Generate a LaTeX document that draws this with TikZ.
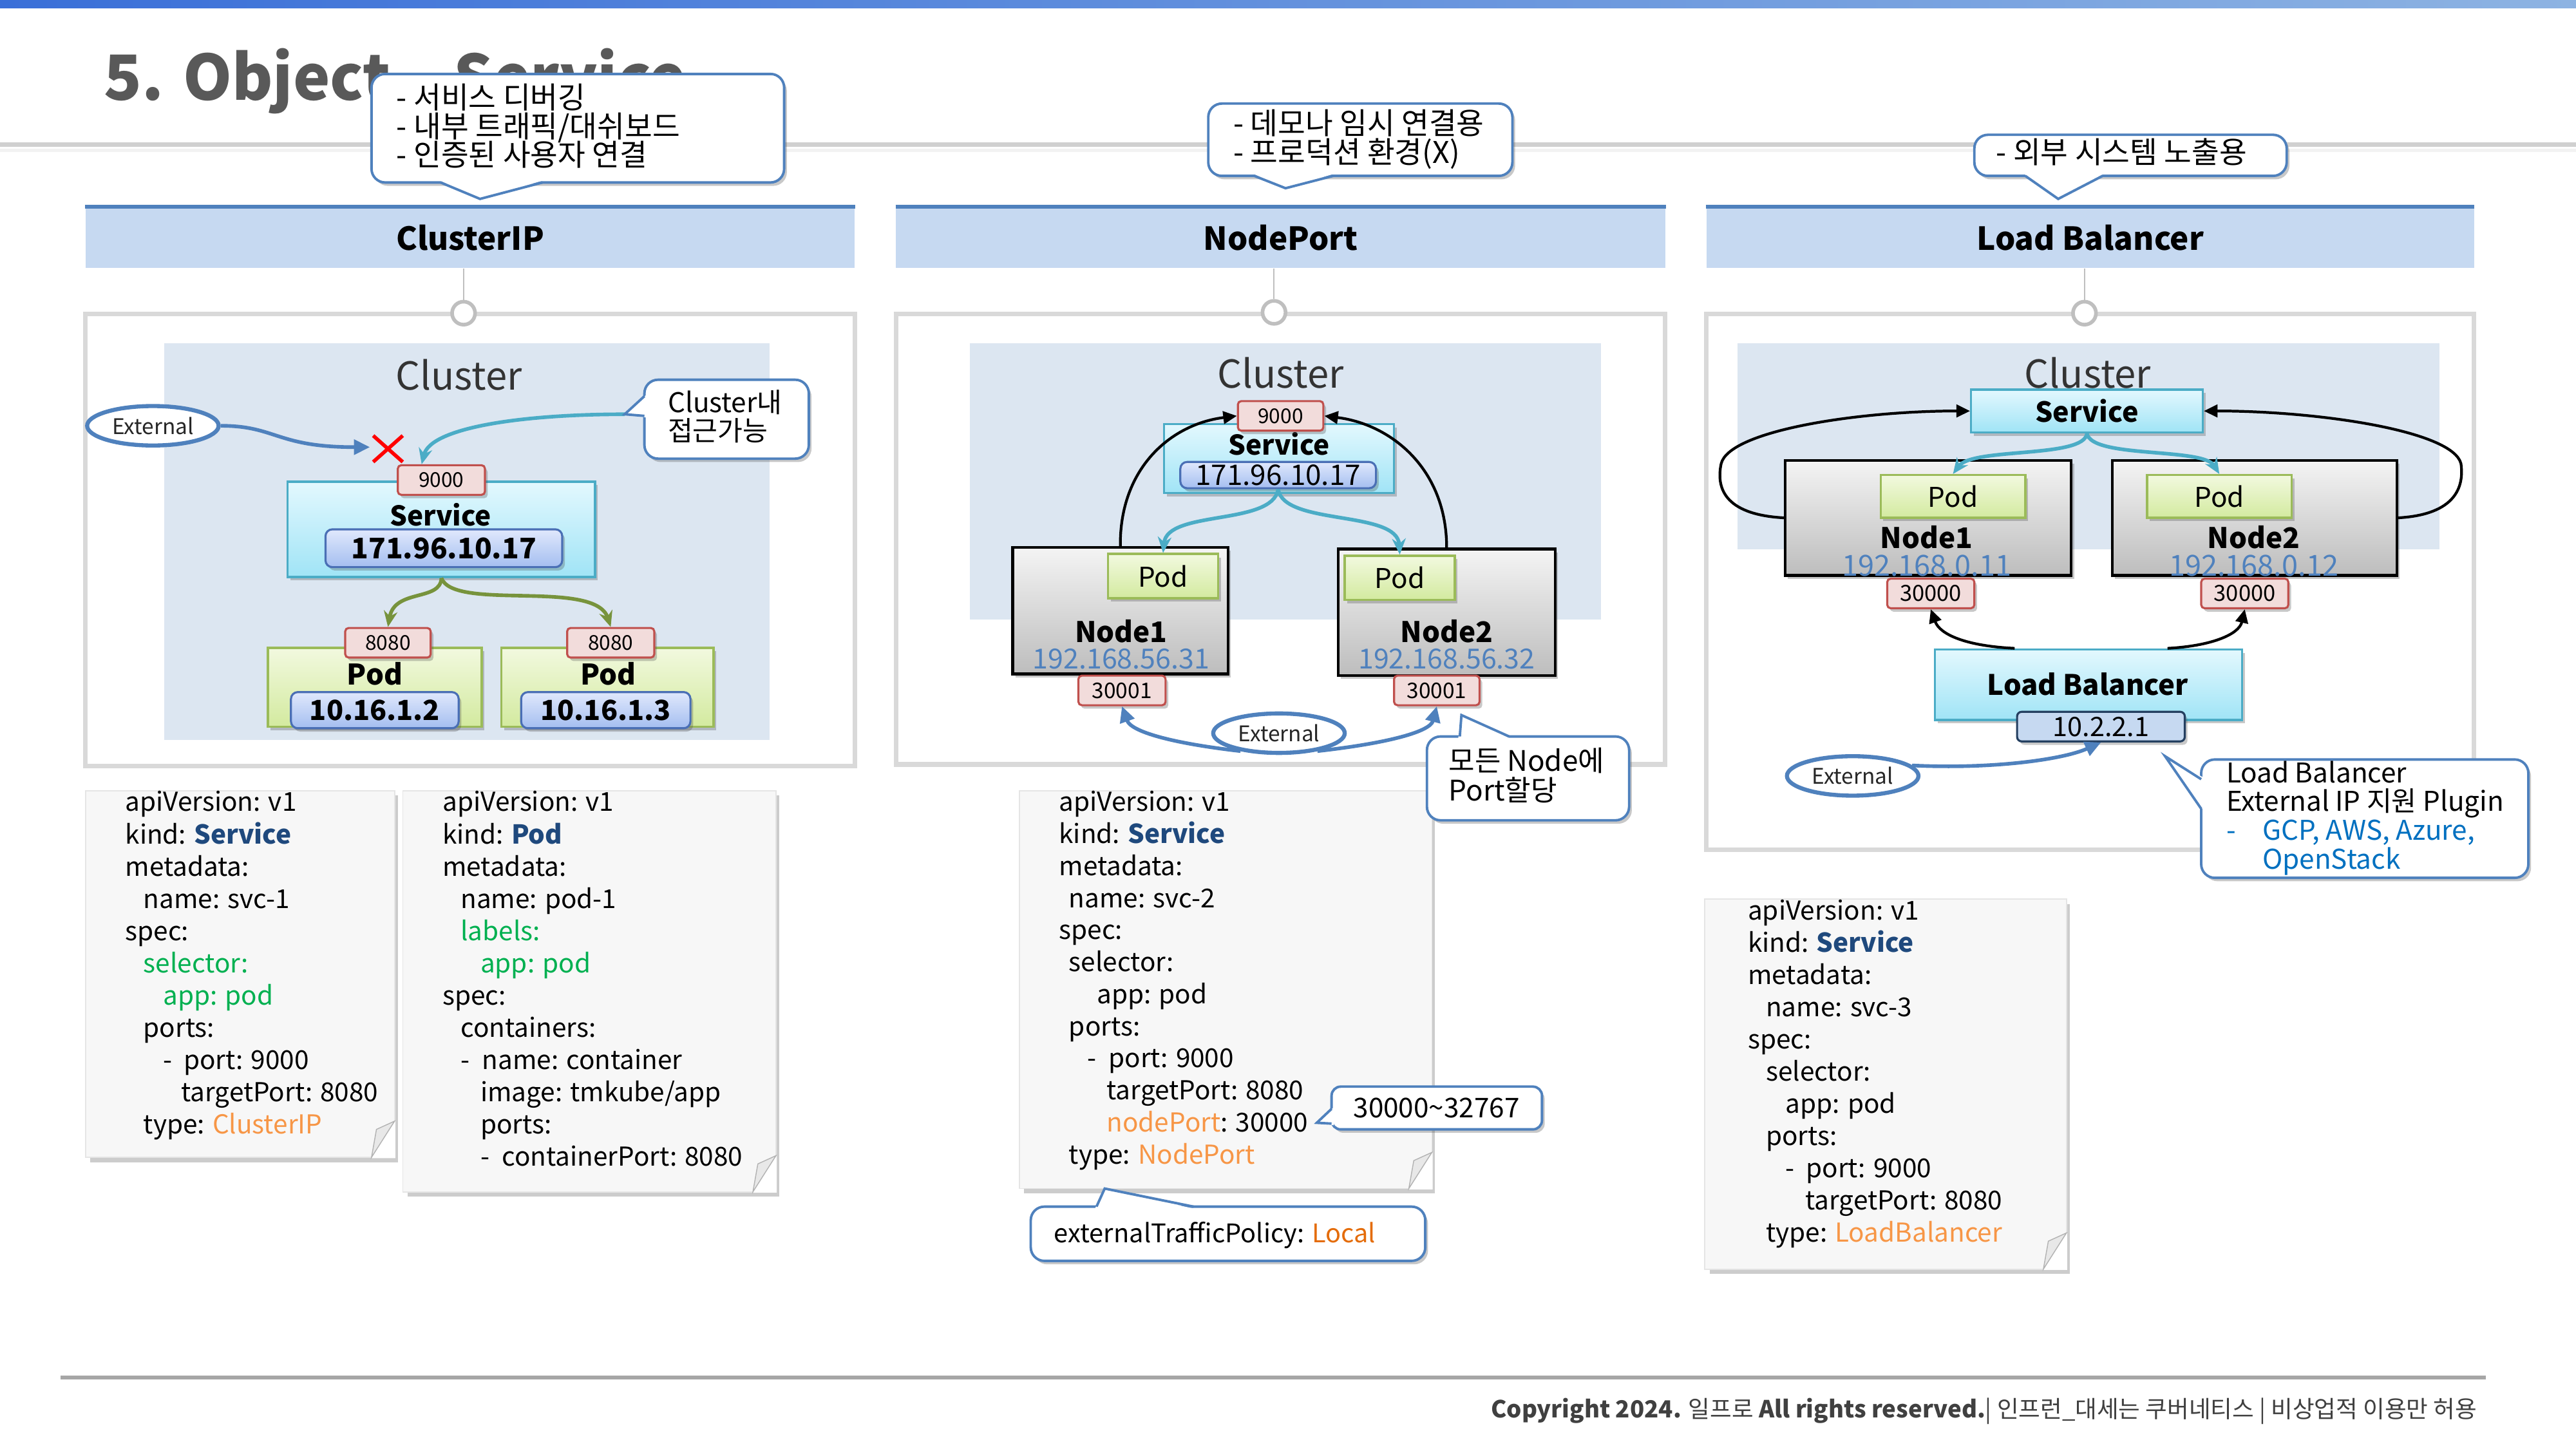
\documentclass[tikz,border=0pt]{standalone}
\usepackage{fontspec}
\setmainfont{Noto Sans CJK KR}
\usetikzlibrary{arrows.meta,shapes.geometric,shadows,calc}
\definecolor{cBarL}{HTML}{3A6FD8}
\definecolor{cBarR}{HTML}{8DB3E2}
\definecolor{cTitle}{HTML}{595959}
\definecolor{cLine}{HTML}{D0D0D0}
\definecolor{cHdr}{HTML}{C6D9F1}
\definecolor{cHdrTop}{HTML}{4F81BD}
\definecolor{cPanel}{HTML}{D9D9D9}
\definecolor{cCirc}{HTML}{BFBFBF}
\definecolor{cClu}{HTML}{DCE6F1}
\definecolor{cCO}{HTML}{4F81BD}
\definecolor{cPortF}{HTML}{F2DCDB}
\definecolor{cPortD}{HTML}{C0504D}
\definecolor{cSvcT}{HTML}{E3F8FE}
\definecolor{cSvcB}{HTML}{A0E4F6}
\definecolor{cSvcD}{HTML}{4BACC6}
\definecolor{cIpT}{HTML}{E0E8FC}
\definecolor{cIpB}{HTML}{A4BEF0}
\definecolor{cIpD}{HTML}{4A6FB5}
\definecolor{cPodT}{HTML}{F2F9DF}
\definecolor{cPodB}{HTML}{D3EA9F}
\definecolor{cPodD}{HTML}{9BBB59}
\definecolor{cNodeT}{HTML}{F4F4F4}
\definecolor{cNodeB}{HTML}{BDBDBD}
\definecolor{cBlueA}{HTML}{4F81BD}
\definecolor{cTeal}{HTML}{4BACC6}
\definecolor{cGreenA}{HTML}{77933C}
\definecolor{cNavy}{HTML}{1F497D}
\definecolor{cGreenT}{HTML}{00B050}
\definecolor{cOrange}{HTML}{F79646}
\definecolor{cOrange2}{HTML}{E46C0A}
\definecolor{cLink}{HTML}{0070C0}
\definecolor{cYaml}{HTML}{F7F7F7}
\definecolor{cLbIp}{HTML}{C6D9F1}
\definecolor{cLbIpD}{HTML}{243F60}
\definecolor{cFoot}{HTML}{404040}
\definecolor{cFootLine}{HTML}{A6A6A6}
\definecolor{cNodeIp}{HTML}{4F81BD}
\newcommand\fsz[2]{\fontsize{#1pt}{#2pt}\selectfont}
\newcommand\bx[7]{\node[#2, minimum width={(#5-#3)*0.725pt}, minimum height={(#6-#4)*0.725pt}] (#1) at ({(#3+#5)/2},{(#4+#6)/2}) {#7};}
\newcommand\ybox[4]{%
  \fill[black!20] (#1+3,#2+3) rectangle (#3+2,#4+3);
  \fill[cYaml] (#1,#2) rectangle (#3,#4);
  \draw[black!10, line width=0.5pt] (#1,#2) rectangle (#3,#4);
  \fill[white] (#3-14,#4+0.5) -- (#3+0.5,#4-22) -- (#3+0.5,#4+0.5) -- cycle;
  \filldraw[fill=black!9, draw=black!30, line width=0.4pt] (#3-14,#4) -- (#3,#4-22) -- (#3-11,#4-17) -- cycle;
}
\tikzset{
  shd/.style={drop shadow={shadow xshift=1.2pt, shadow yshift=-1.5pt, opacity=0.3, fill=black!70}},
  hdr/.style={fill=cHdr, inner sep=0},
  hdrtop/.style={draw=cHdrTop, line width=1.6pt},
  panel/.style={draw=cPanel, line width=2pt, fill=white},
  circ/.style={circle, draw=cCirc, line width=1.6pt, fill=white, minimum size={14*0.725pt}, inner sep=0},
  conn/.style={draw=cCirc, line width=0.6pt},
  port/.style={draw=cPortD, line width=0.9pt, fill=cPortF, rounded corners=1.5pt, inner sep=0, font=\fsz{9}{10}, shd},
  svc/.style={draw=cSvcD, line width=0.9pt, top color=cSvcT, bottom color=cSvcB, inner sep=0, shd},
  ipbox/.style={draw=cIpD, line width=0.9pt, top color=cIpT, bottom color=cIpB, rounded corners=3pt, inner sep=0, shd},
  lbip/.style={draw=cLbIpD, line width=0.9pt, fill=cLbIp, rounded corners=2pt, inner sep=0, shd},
  pod/.style={draw=cPodD, line width=1pt, top color=cPodT, bottom color=cPodB, inner sep=0, shd},
  knode/.style={draw=black, line width=1.2pt, top color=cNodeT, bottom color=cNodeB, inner sep=0, shd},
  ext/.style={ellipse, draw=cBlueA, line width=1.8pt, fill=white, inner sep=0, font=\fsz{9.5}{10}, text=black!85, minimum width={80*0.725pt}, minimum height={24*0.725pt}},
  co/.style={draw=cCO, line width=1.1pt, fill=white, rounded corners=6pt},
  cop/.style={draw=cCO, line width=1.1pt, line join=miter},
  arB/.style={draw=cBlueA, line width=1.6pt, -{Triangle[length=7pt,width=6.5pt]}},
  arT/.style={draw=cTeal, line width=1.6pt, -{Stealth[length=7pt,width=6pt]}},
  arG/.style={draw=cGreenA, line width=1.6pt, -{Stealth[length=7pt,width=6pt]}},
  arK/.style={draw=black, line width=1.2pt, -{Triangle[length=6pt,width=5.5pt]}},
  tl/.style={anchor=base west, inner sep=0},
  tc/.style={inner sep=0},
  yl/.style={anchor=base west, inner sep=0, font=\fsz{11.5}{13}},
  clt/.style={inner sep=0, font=\fsz{17}{18}, text=black!80},
}
\begin{document}
\begin{tikzpicture}[x=0.725pt,y=-0.725pt]
\useasboundingbox (0,0) rectangle (1567,881.4);
\fill[white] (0,0) rectangle (1567,881.4);
% top bar and title
\shade[left color=cBarL, right color=cBarR] (0,0) rectangle (1567,5);
\node[anchor=base west, inner sep=0, font=\bfseries\fsz{27.5}{32}, text=cTitle] (title) at (63,61) {5. Object – Service};
\draw[line width=2.2pt, cLine] (0,88) -- (1567,88);
\draw[line width=1.2pt, black!5] (0,91.5) -- (1567,91.5);

% ================= headers & panels =================
\bx{h1}{hdr,font=\bfseries\fsz{14}{16}}{52}{126}{520}{163}{ClusterIP}
\bx{h2}{hdr,font=\bfseries\fsz{14}{16}}{545}{126}{1013}{163}{NodePort}
\bx{h3}{hdr,font=\bfseries\fsz{14}{16}}{1038}{126}{1505}{163}{Load Balancer}
\draw[hdrtop] (h1.north west) -- (h1.north east);
\draw[hdrtop] (h2.north west) -- (h2.north east);
\draw[hdrtop] (h3.north west) -- (h3.north east);
\draw[panel] (52,191) rectangle (520,466);
\draw[panel] (545,191) rectangle (1013,465);
\draw[panel] (1038,191) rectangle (1505,517);
\node[circ] (k1) at (282,190.5) {};
\node[circ] (k2) at (775,190) {};
\node[circ] (k3) at (1268,190.5) {};
\draw[conn] (k1.north |- h1.south) -- (k1.north);
\draw[conn] (k2.north |- h2.south) -- (k2.north);
\draw[conn] (k3.north |- h3.south) -- (k3.north);

% ================= ClusterIP =================
\fill[cClu] (100,209) rectangle (468,450);
\node[clt] (cl1) at (279,228) {Cluster};
\node[ext] (ext1) at (93,259) {External};
\coordinate (xm) at (236,273);
\coordinate (c4tip) at (380,252);
\draw[red, line width=1.6pt] ($(xm)+(-9,-8)$) -- ($(xm)+(9,8)$) ($(xm)+(9,-8)$) -- ($(xm)+(-9,8)$);
\bx{svc1}{svc}{175}{293}{362}{351}{}
\node[tc, font=\bfseries\fsz{12}{13}] (svc1t) at (268,313) {Service};
\bx{ip1}{ipbox,font=\bfseries\fsz{12.5}{14}}{198}{322}{342}{345}{171.96.10.17}
\bx{p1}{port}{242}{283}{295}{301}{9000}
\bx{pod1a}{pod}{163}{394}{293}{442}{}
\bx{pod1b}{pod}{305}{394}{434}{442}{}
\node[tc, font=\bfseries\fsz{12.5}{13}] (pod1at) at (228,410) {Pod};
\node[tc, font=\bfseries\fsz{12.5}{13}] (pod1bt) at (370,410) {Pod};
\bx{p8a}{port}{210}{382}{262}{400}{8080}
\bx{p8b}{port}{345}{382}{398}{400}{8080}
\bx{ip1a}{ipbox,font=\bfseries\fsz{12.2}{14}}{177}{421}{279}{443}{10.16.1.2}
\bx{ip1b}{ipbox,font=\bfseries\fsz{12.2}{14}}{317}{421}{420}{443}{10.16.1.3}
\draw[arB] (ext1.east) .. controls (168,259) and (168,272) .. ($(xm)+(-11,-1)$);
\draw[arT] (c4tip) .. controls (318,252) and (262,260) .. ($(p1.north)+(-12,0)$);
\draw[arG] (svc1.south) .. controls (268,366) and (240,358) .. (p8a.north);
\draw[arG] (svc1.south) .. controls (276,372) and (362,352) .. (p8b.north);

% ================= NodePort =================
\fill[cClu] (590,209) rectangle (974,377);
\node[clt] (cl2) at (779,227) {Cluster};
\bx{svc2}{svc}{708}{258}{848}{300}{}
\node[tc, font=\bfseries\fsz{12}{13}] (svc2t) at (778,270) {Service};
\bx{ip2}{ipbox,font=\fsz{12.5}{13}}{718}{281}{837}{297}{171.96.10.17}
\bx{p2}{port}{753}{244}{805}{262}{9000}
\bx{n2a}{knode}{616}{333}{747}{410}{}
\bx{n2b}{knode}{814}{334}{946}{411}{}
\bx{pod2a}{pod,font=\fsz{12}{13}}{674}{337}{741}{364}{Pod}
\bx{pod2b}{pod,font=\fsz{12}{13}}{818}{338}{885}{365}{Pod}
\node[tc, font=\bfseries\fsz{12.5}{13}] (n2at) at (682,384) {Node1};
\node[tc, font=\fsz{12.2}{13}, text=cNodeIp] (n2ai) at (682,401) {192.168.56.31};
\node[tc, font=\bfseries\fsz{12.5}{13}] (n2bt) at (880,384) {Node2};
\node[tc, font=\fsz{12.2}{13}, text=cNodeIp] (n2bi) at (880,401) {192.168.56.32};
\bx{p3a}{port,font=\fsz{9.5}{10}}{656}{411}{709}{429}{30001}
\bx{p3b}{port,font=\fsz{9.5}{10}}{848}{411}{900}{429}{30001}
\node[ext] (ext2) at (778,446) {External};
\draw[arK] (n2a.north) .. controls (681,285) and (712,258) .. (p2.west);
\draw[arK] (n2b.north) .. controls (880,285) and (846,258) .. (p2.east);
\draw[arT] (ip2.south) .. controls (774,320) and (710,310) .. (pod2a.north);
\draw[arT] (ip2.south) .. controls (781,320) and (850,310) .. (pod2b.north);
\draw[arB] (ext2.205) .. controls (712,452) and (688,445) .. (p3a.south);
\draw[arB] (ext2.335) .. controls (845,452) and (870,445) .. (p3b.south);

% ================= Load Balancer =================
\fill[cClu] (1057,209) rectangle (1484,334);
\node[clt] (cl3) at (1270,227) {Cluster};
\bx{n3a}{knode}{1086}{280}{1260}{350}{}
\bx{n3b}{knode}{1285}{280}{1458}{350}{}
\bx{svc3}{svc,font=\bfseries\fsz{12.2}{13}}{1199}{237}{1340}{263}{Service}
\bx{pod3a}{pod,font=\fsz{12}{13}}{1144}{289}{1232}{315}{Pod}
\bx{pod3b}{pod,font=\fsz{12}{13}}{1306}{289}{1394}{315}{Pod}
\node[tc, font=\bfseries\fsz{12.5}{13}] (n3at) at (1172,327) {Node1};
\node[tc, font=\fsz{12.8}{13}, text=cNodeIp] (n3ai) at (1172,344) {192.168.0.11};
\node[tc, font=\bfseries\fsz{12.5}{13}] (n3bt) at (1371,327) {Node2};
\node[tc, font=\fsz{12.8}{13}, text=cNodeIp] (n3bi) at (1371,344) {192.168.0.12};
\bx{p4a}{port,font=\fsz{9.8}{10}}{1148}{352}{1201}{370}{30000}
\bx{p4b}{port,font=\fsz{9.8}{10}}{1339}{352}{1392}{370}{30000}
\bx{lb}{svc}{1177}{395}{1364}{438}{}
\node[tc, font=\bfseries\fsz{12.4}{13}] (lbt) at (1270,416) {Load Balancer};
\bx{iplb}{lbip,font=\fsz{11.8}{12}}{1227}{433}{1329}{451}{10.2.2.1}
\node[ext] (ext3) at (1127,472) {External};
\draw[arK] (n3a.west) .. controls (1048,313) and (1044,296) .. (1047,282) .. controls (1052,262) and (1130,250) .. (svc3.west);
\draw[arK] (n3b.east) .. controls (1494,313) and (1499,296) .. (1497,282) .. controls (1492,262) and (1410,250) .. (svc3.east);
\draw[arT] (svc3.south) .. controls (1268,279) and (1200,272) .. (pod3a.north);
\draw[arT] (svc3.south) .. controls (1272,279) and (1340,272) .. (pod3b.north);
\draw[arK] ($(lb.north)+(-45,0)$) .. controls (1196,393) and (1180,386) .. (p4a.south);
\draw[arK] ($(lb.north)+(48,0)$) .. controls (1345,393) and (1362,386) .. (p4b.south);
\draw[arB] (ext3.10) .. controls (1212,468) and (1255,462) .. (iplb.south);

% ================= YAML boxes =================
\ybox{52}{481}{240}{704}
\ybox{245}{481}{472}{725}
\ybox{620}{481}{871}{723}
\ybox{1037}{547}{1257}{772}
\foreach \xx/\tx [count=\i] in {76/{apiVersion: v1}, 76/{kind: \textbf{\color{cNavy}Service}}, 76/{metadata:}, 87/{name: svc-1}, 76/{spec:}, 87/{\color{cGreenT}selector:}, 99/{\color{cGreenT}app: pod}, 87/{ports:}, 99/{-\hspace{5pt}port: 9000}, 110/{targetPort: 8080}, 87/{type: \textcolor{cOrange}{ClusterIP}}}
  \node[yl] (ya\i) at (\xx,{493.6+19.6*(\i-1)}) {\tx};
\foreach \xx/\tx [count=\i] in {269/{apiVersion: v1}, 269/{kind: \textbf{\color{cNavy}Pod}}, 269/{metadata:}, 280/{name: pod-1}, 280/{\color{cGreenT}labels:}, 292/{\color{cGreenT}app: pod}, 269/{spec:}, 280/{containers:}, 280/{-\hspace{5.5pt}name: container}, 292/{image: tmkube/app}, 292/{ports:}, 292/{-\hspace{5.5pt}containerPort: 8080}}
  \node[yl] (yb\i) at (\xx,{493.6+19.6*(\i-1)}) {\tx};
\foreach \xx/\tx [count=\i] in {644/{apiVersion: v1}, 644/{kind: \textbf{\color{cNavy}Service}}, 644/{metadata:}, 650/{name: svc-2}, 644/{spec:}, 650/{selector:}, 667/{app: pod}, 650/{ports:}, 661/{-\hspace{5.5pt}port: 9000}, 673/{targetPort: 8080}, 673/{\textcolor{cOrange}{nodePort}: 30000}, 650/{type: \textcolor{cOrange}{NodePort}}}
  \node[yl] (yc\i) at (\xx,{493.5+19.5*(\i-1)}) {\tx};
\foreach \xx/\tx [count=\i] in {1063/{apiVersion: v1}, 1063/{kind: \textbf{\color{cNavy}Service}}, 1063/{metadata:}, 1074/{name: svc-3}, 1063/{spec:}, 1074/{selector:}, 1086/{app: pod}, 1074/{ports:}, 1086/{-\hspace{5pt}port: 9000}, 1098/{targetPort: 8080}, 1074/{type: \textcolor{cOrange}{LoadBalancer}}}
  \node[yl] (yd\i) at (\xx,{559.5+19.6*(\i-1)}) {\tx};

% ================= callouts =================
% C1
\draw[co, shd] (226,45) rectangle (477,111);
\fill[white] (267,109.6) -- (292,121) -- (331,109.6) -- cycle;
\draw[cop] (268,111) -- (292,121) -- (330,111);
\node[tl, font=\fsz{13.2}{14}] (c1a) at (241,66) {- 서비스 디버깅};
\node[tl, font=\fsz{13.2}{14}] (c1b) at (241,83.5) {- 내부 트래픽/대쉬보드};
\node[tl, font=\fsz{13.2}{14}] (c1c) at (241,101) {- 인증된 사용자 연결};
% C2
\draw[co, shd] (735,63) rectangle (920,107);
\fill[white] (762,105.6) -- (782,114.5) -- (812,105.6) -- cycle;
\draw[cop] (763,107) -- (782,114.5) -- (811,107);
\node[tl, font=\fsz{13.2}{14}] (c2a) at (750,81.5) {- 데모나 임시 연결용};
\node[tl, font=\fsz{13.2}{14}] (c2b) at (750,99.5) {- 프로덕션 환경(X)};
% C3
\draw[co, shd] (1201,82) rectangle (1391,107);
\fill[white] (1231,105.6) -- (1252,121) -- (1280,105.6) -- cycle;
\draw[cop] (1232,107) -- (1252,121) -- (1279,107);
\node[tl, font=\fsz{13.2}{14}] (c3a) at (1214,99.5) {- 외부 시스템 노출용};
% C4
\draw[co, shd] (392,231) rectangle (492,279);
\fill[white] (393.4,240) -- (c4tip) -- (393.4,254) -- cycle;
\draw[cop] (392,241) -- (c4tip) -- (392,253);
\node[tl, font=\fsz{12}{13}] (c4a) at (406,251) {Cluster내};
\node[tl, font=\fsz{12}{13}] (c4b) at (406,268) {접근가능};
% C5
\draw[co, shd] (868,448) rectangle (991,499);
\fill[white] (887,449.4) -- (889,435) -- (919,449.4) -- cycle;
\draw[cop] (888,448) -- (889,435) -- (918,448);
\node[tl, font=\fsz{12.5}{13}] (c5a) at (881,469) {모든 Node에};
\node[tl, font=\fsz{12.5}{13}] (c5b) at (881,487) {Port할당};
% C6
\draw[co, shd, rounded corners=4pt] (810,661) rectangle (938,687);
\fill[white] (811.4,673.5) -- (801,683) -- (811.4,684.5) -- cycle;
\draw[cop] (810,674.5) -- (801,683) -- (810,683.5);
\node[tl, font=\fsz{12}{13}] (c6a) at (823,680) {30000\textasciitilde 32767};
% C7
\draw[co, shd] (627,734) rectangle (867,767);
\fill[white] (666,735.4) -- (672,723) -- (727,735.4) -- cycle;
\draw[cop] (667,734) -- (672,723) -- (726,734);
\node[tl, font=\fsz{11.3}{13}] (c7a) at (641,756) {externalTrafficPolicy: \textcolor{cOrange2}{Local}};
% C8
\draw[co, shd] (1339,462) rectangle (1538,534);
\fill[white] (1340.4,473) -- (1317,460) -- (1340.4,493) -- cycle;
\draw[cop] (1339,474) -- (1317,460) -- (1339,492);
\node[tl, font=\fsz{12}{13}] (c8a) at (1354,476) {Load Balancer};
\node[tl, font=\fsz{12}{13}] (c8b) at (1354,493.5) {External IP 지원 Plugin};
\node[tl, font=\fsz{12}{13}, text=cLink] (c8c) at (1354,511) {-};
\node[tl, font=\fsz{12}{13}, text=cLink] (c8d) at (1376,511) {GCP, AWS, Azure,};
\node[tl, font=\fsz{12}{13}, text=cLink] (c8e) at (1376,528.5) {OpenStack};

% ================= footer =================
\draw[line width=1.6pt, cFootLine] (37,838) -- (1512,838);
\node[anchor=base east, inner sep=0, font=\fsz{10.4}{12}, text=cFoot] (foot) at (1507,862.5) {\textbf{Copyright 2024.} 일프로 \textbf{All rights reserved.}| 인프런\_대세는 쿠버네티스 | 비상업적 이용만 허용};
\end{tikzpicture}
\end{document}
